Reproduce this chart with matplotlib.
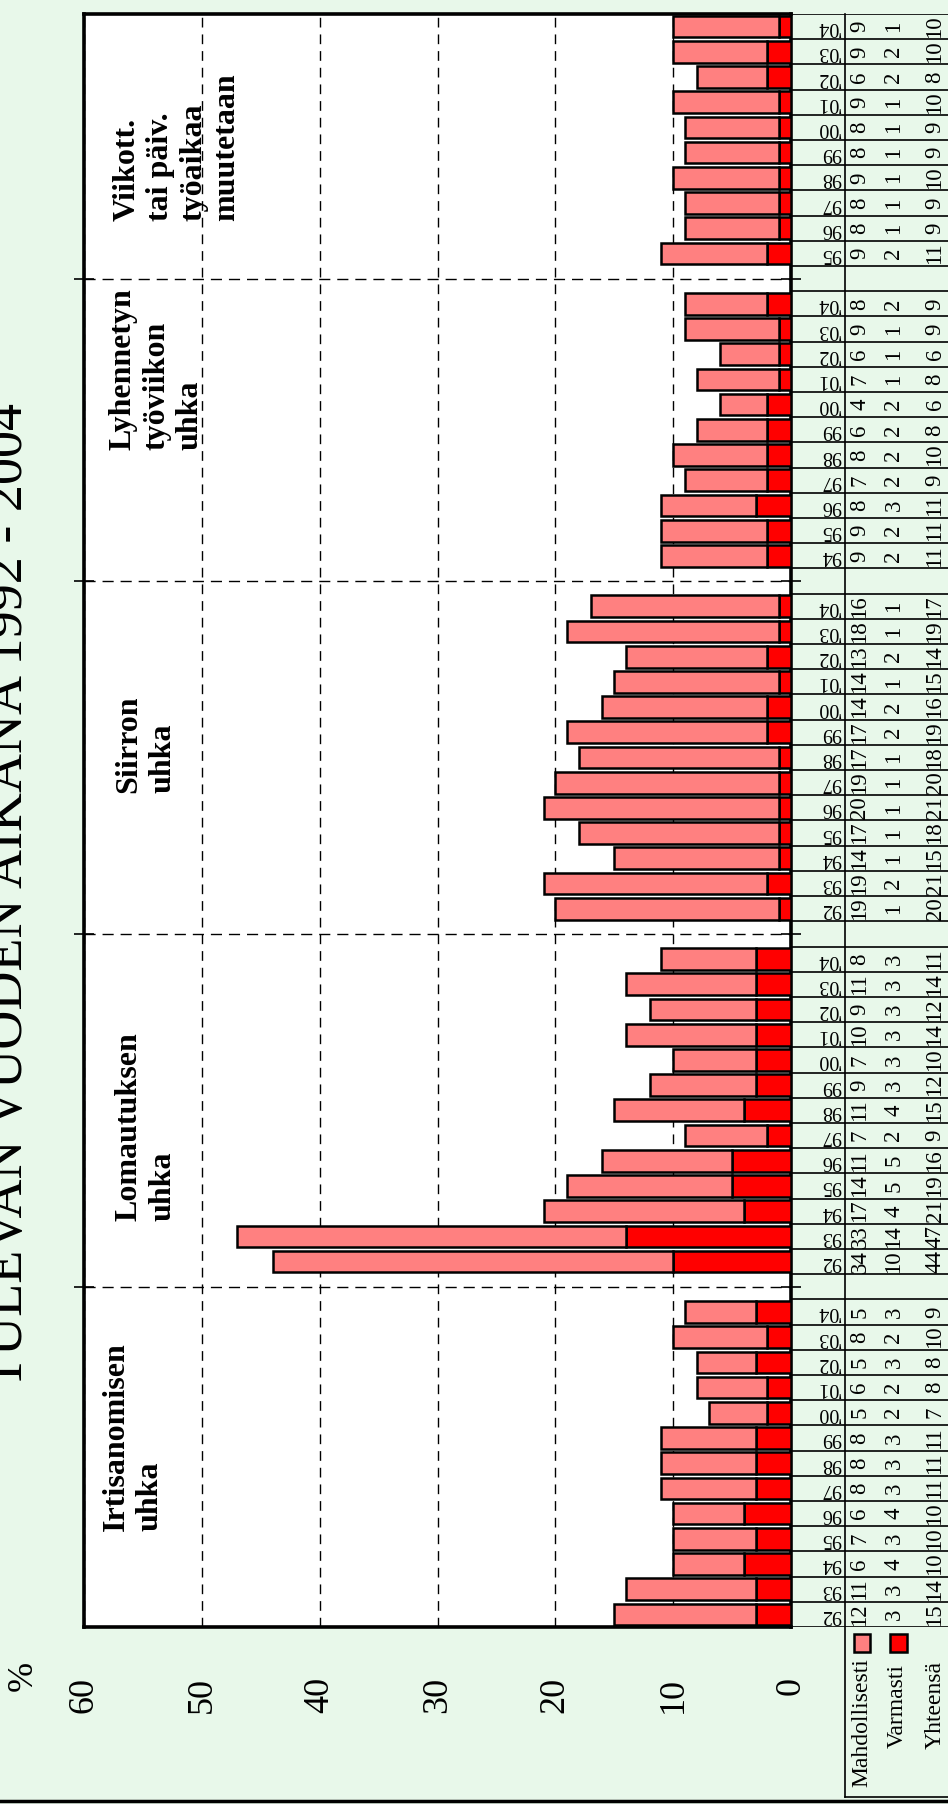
import matplotlib
matplotlib.use("Agg")
import matplotlib.pyplot as plt
from matplotlib.patches import Rectangle
from matplotlib.lines import Line2D

plt.rcParams['font.family'] = ['Liberation Serif', 'DejaVu Serif']

# --- data -------------------------------------------------------------
groups = ['Irtisanomisen\nuhka', 'Lomautuksen\nuhka', 'Siirron\nuhka',
          'Lyhennetyn\ntyöviikon\nuhka',
          'Viikott.\ntai päiv.\ntyöaikaa\nmuutetaan']
years_all = ['92', '93', '94', '95', '96', '97', '98', '99',
             "'00", "'01", "'02", "'03", "'04"]
years = [years_all, years_all, years_all, years_all[2:], years_all[3:]]

mahd_irt = [12, 11, 6, 7, 6, 8, 8, 8, 5, 6, 5, 8, 5]
varm_irt = [3, 3, 4, 3, 4, 3, 3, 3, 2, 2, 3, 2, 3]
yht_irt = [15, 14, 10, 10, 10, 11, 11, 11, 7, 8, 8, 10, 9]

mahd_lom = [34, 33, 17, 14, 11, 7, 11, 9, 7, 10, 9, 11, 8]
varm_lom = [10, 14, 4, 5, 5, 2, 4, 3, 3, 3, 3, 3, 3]
yht_lom = [44, 47, 21, 19, 16, 9, 15, 12, 10, 14, 12, 14, 11]

mahd_sii = [19, 19, 14, 17, 20, 19, 17, 17, 14, 14, 13, 18, 16]
varm_sii = [1, 2, 1, 1, 1, 1, 1, 2, 2, 1, 2, 1, 1]
yht_sii = [20, 21, 15, 18, 21, 20, 18, 19, 16, 15, 14, 19, 17]

mahd_lyh = [9, 9, 8, 7, 8, 6, 4, 7, 6, 9, 8]
varm_lyh = [2, 2, 3, 2, 2, 2, 2, 1, 1, 1, 2]
yht_lyh = [11, 11, 11, 9, 10, 8, 6, 8, 6, 9, 9]

mahd_vii = [9, 8, 8, 9, 8, 8, 9, 6, 9, 9]
varm_vii = [2, 1, 1, 1, 1, 1, 1, 2, 2, 1]
yht_vii = [11, 9, 9, 10, 9, 9, 10, 8, 10, 10]

mahd = [mahd_irt, mahd_lom, mahd_sii, mahd_lyh, mahd_vii]
varm = [varm_irt, varm_lom, varm_sii, varm_lyh, varm_vii]
yht = [yht_irt, yht_lom, yht_sii, yht_lyh, yht_vii]

row_names = ['Mahdollisesti', 'Varmasti', 'Yhteensä']

# --- style ------------------------------------------------------------
bg = '#e8f8ea'
c_mahd = '#ff8080'
c_varm = '#ff0000'

fig = plt.figure(figsize=(9.48, 18.04), dpi=100)
fig.set_facecolor(bg)

W, H = 948.0, 1804.0
ax_l, ax_r, ax_t, ax_b = 84, 791, 14, 1627
ax = fig.add_axes([ax_l / W, 1 - ax_b / H, (ax_r - ax_l) / W, (ax_b - ax_t) / H])
ax.set_facecolor('white')

# slot positions: one empty slot between the groups
pos = []
start = 0
for yl in years:
    pos.append([start + i for i in range(len(yl))])
    start += len(yl) + 1
n_slots = start - 1
seps = [p[-1] + 1 for p in pos[:-1]]

for g in range(len(groups)):
    pink = [t - v for t, v in zip(yht[g], varm[g])]
    ax.barh(pos[g], varm[g], height=0.86, color=c_varm,
            edgecolor='black', linewidth=1.8, zorder=3)
    ax.barh(pos[g], pink, left=varm[g], height=0.86, color=c_mahd,
            edgecolor='black', linewidth=1.8, zorder=3)

ax.set_xlim(60, 0)
ax.set_ylim(-0.5, n_slots - 0.5)
ax.set_xticks(range(0, 61, 10))
ax.set_xticklabels([str(v) for v in range(0, 61, 10)], rotation=90,
                   fontsize=26)
ax.tick_params(axis='x', length=0, pad=36)
ax.set_yticks(seps)
ax.set_yticklabels([])
ax.tick_params(axis='y', direction='inout', length=14, width=1.2,
               left=True, right=True)
ax.grid(axis='x', color='black', linestyle=(0, (7, 5)), linewidth=1.0)
for s in seps:
    ax.axhline(s, color='black', linestyle=(0, (8, 5)), linewidth=1.0)
ax.set_axisbelow(True)
for sp in ax.spines.values():
    sp.set_linewidth(2.6)

# group labels
lab_x = [58.5, 57.4, 57.4, 57.9, 57.6]
lab_y = [3.3, 15.6, 32.6, 46.2, 55.3]
for g, name in enumerate(groups):
    ax.text(lab_x[g], lab_y[g], name, rotation=90, ha='left', va='bottom',
            multialignment='left', fontsize=23, fontweight='bold', zorder=4)

# --- table on the right ---------------------------------------------------
tab = fig.add_axes([ax_r / W, 1 - ax_b / H, (W - ax_r) / W, (ax_b - ax_t) / H],
                   sharey=ax)
tab.set_xlim(0, W - ax_r)
tab.axis('off')
tab.patch.set_alpha(0)

for k in range(-1, n_slots):
    tab.axhline(k + 0.5, color='black', linewidth=1.2)
y_low = -0.5 - (1797 - ax_b) / 25.2
tab.plot([54, 54], [n_slots - 0.5, y_low], color='black', lw=1.2, clip_on=False)
tab.plot([54, W - ax_r], [y_low, y_low], color='black', lw=1.2, clip_on=False)

col_x = [69, 103, 144]
for g in range(len(groups)):
    for i, p in enumerate(pos[g]):
        tab.text(50, p, years[g][i], rotation=180, ha='right', va='center',
                 fontsize=14.5)
        for cx, vals in zip(col_x, (mahd[g], varm[g], yht[g])):
            tab.text(cx, p, str(vals[i]), rotation=90, ha='center',
                     va='center', fontsize=16.5)

# row headers with legend keys
head_x = [71, 106, 144]
head_y = [-1.72, -1.95, -1.83]
for hx, hy, name in zip(head_x, head_y, row_names):
    tab.text(hx, hy, name, rotation=90, ha='center', va='top',
             fontsize=17, clip_on=False)
tab.add_patch(Rectangle((63, -1.49), 16, 0.71, facecolor=c_mahd,
                        edgecolor='black', lw=1.8, clip_on=False))
tab.add_patch(Rectangle((99, -1.49), 17, 0.71, facecolor=c_varm,
                        edgecolor='black', lw=1.8, clip_on=False))

# --- title and unit -----------------------------------------------------
fig.text(22 / W, 1 - 895.5 / H, 'TULEVAN VUODEN AIKANA 1992 - 2004',
         rotation=90, rotation_mode='anchor', ha='center', va='baseline',
         fontsize=39)
fig.text(23 / W, 1 - 1676 / H, '%', rotation=90, ha='center', va='center',
         fontsize=26)
fig.add_artist(Line2D([0, 1], [1 - 1801 / H, 1 - 1801 / H], color='black',
                      lw=2.5, transform=fig.transFigure))

fig.savefig('out.png', dpi=100, facecolor=bg)
